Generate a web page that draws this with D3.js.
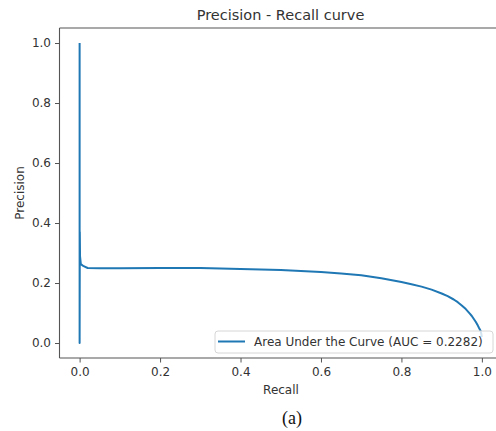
<!DOCTYPE html>
<html><head><meta charset="utf-8">
<script src="https://cdn.jsdelivr.net/npm/d3@7"></script>
<style>body{margin:0;background:#fff;}svg{display:block;font-family:"DejaVu Sans",sans-serif;}</style>
</head><body>
<script>
const recall = [1.0, 0.997, 0.993, 0.99, 0.985, 0.98, 0.975, 0.97, 0.96, 0.95, 0.94, 0.93, 0.915, 0.9, 0.875, 0.85, 0.825, 0.8, 0.75, 0.7, 0.65, 0.6, 0.5, 0.4, 0.3, 0.2, 0.1, 0.05, 0.02, 0.01, 0.003, 0.001, 0.0005, 0.0, 0.0, 0.0];
const precision = [0.02, 0.04, 0.05, 0.058, 0.07, 0.08, 0.09, 0.098, 0.113, 0.125, 0.136, 0.145, 0.156, 0.165, 0.178, 0.188, 0.196, 0.203, 0.216, 0.226, 0.232, 0.237, 0.243, 0.247, 0.25, 0.25, 0.249, 0.249, 0.25, 0.256, 0.263, 0.29, 0.37, 0.0, 0.37, 1.0];
const xTicks = [0.0, 0.2, 0.4, 0.6, 0.8, 1.0];
const yTicks = [0.0, 0.2, 0.4, 0.6, 0.8, 1.0];
const title = "Precision - Recall curve";
const xLabel = "Recall";
const yLabel = "Precision";
const legendLabel = "Area Under the Curve (AUC = 0.2282)";
const caption = "(a)";

(function () {
const W = 496, H = 431;
const pL = 59.5, pR = 502, pT = 28, pB = 358;
const svg = d3.select("body").append("svg").attr("width", W).attr("height", H);
const x = d3.scaleLinear().domain([-0.05, 1.05]).range([pL, pR]);
const y = d3.scaleLinear().domain([-0.05, 1.05]).range([pB, pT]);

const pts = recall.map((r, i) => [r, precision[i]]);
svg.append("path").datum(pts)
  .attr("d", d3.line().x(d => x(d[0])).y(d => y(d[1])))
  .attr("fill", "none").attr("stroke", "#1f77b4").attr("stroke-width", 2)
  .attr("stroke-linejoin", "round");

const sp = svg.append("g").attr("stroke", "#555").attr("stroke-width", 1.1).attr("fill", "none");
sp.append("line").attr("x1", pL).attr("x2", pL).attr("y1", pT).attr("y2", pB);
sp.append("line").attr("x1", pL).attr("x2", pR).attr("y1", pB).attr("y2", pB);
sp.append("line").attr("x1", pL).attr("x2", pR).attr("y1", pT).attr("y2", pT);
sp.append("line").attr("x1", pR).attr("x2", pR).attr("y1", pT).attr("y2", pB);

const xAxis = svg.append("g").attr("transform", `translate(0,${pB})`)
  .call(d3.axisBottom(x).tickValues(xTicks).tickFormat(d3.format(".1f")).tickSize(4.5).tickPadding(5));
const yAxis = svg.append("g").attr("transform", `translate(${pL},0)`)
  .call(d3.axisLeft(y).tickValues(yTicks).tickFormat(d3.format(".1f")).tickSize(4.5).tickPadding(4));
[xAxis, yAxis].forEach(a => {
  a.select(".domain").remove();
  a.selectAll("line").attr("stroke", "#555").attr("stroke-width", 1);
  a.selectAll("text").attr("fill", "#333").style("font-size", "12px").style("font-family", "DejaVu Sans");
});

svg.append("text").attr("x", 280.5).attr("y", 20).attr("text-anchor", "middle")
  .attr("fill", "#333").style("font-size", "14.5px").text(title);
svg.append("text").attr("x", 281).attr("y", 394).attr("text-anchor", "middle")
  .attr("fill", "#333").style("font-size", "12px").text(xLabel);
svg.append("text").attr("transform", "translate(24,193) rotate(-90)").attr("text-anchor", "middle")
  .attr("fill", "#333").style("font-size", "12px").text(yLabel);

const lg = svg.append("g");
lg.append("rect").attr("x", 215).attr("y", 331).attr("width", 278).attr("height", 22).attr("rx", 3)
  .attr("fill", "#fff").attr("fill-opacity", 0.8).attr("stroke", "#d6d6d6").attr("stroke-width", 1);
lg.append("line").attr("x1", 218).attr("x2", 245).attr("y1", 341.5).attr("y2", 341.5)
  .attr("stroke", "#1f77b4").attr("stroke-width", 2);
lg.append("text").attr("x", 254).attr("y", 346).attr("fill", "#333").style("font-size", "12px").text(legendLabel);

svg.append("text").attr("x", 292).attr("y", 424).attr("text-anchor", "middle")
  .attr("fill", "#111").style("font-family", "'Liberation Serif', serif").style("font-size", "18px").text(caption);
})();
</script>
</body></html>
